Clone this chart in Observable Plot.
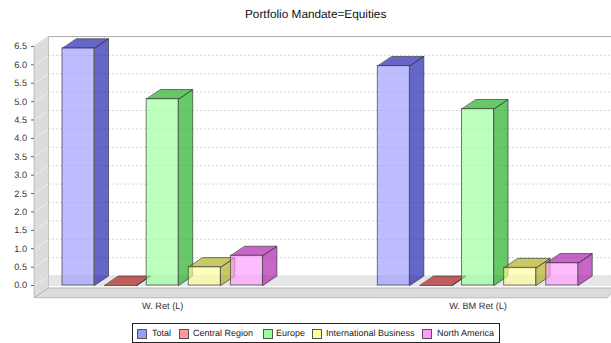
<!DOCTYPE html>
<html><head><meta charset="utf-8">
<script src="https://cdn.jsdelivr.net/npm/d3@7"></script>
<script src="https://cdn.jsdelivr.net/npm/@observablehq/plot@0.6"></script>
<style>
html,body{margin:0;padding:0;background:#fff;overflow:hidden}
body{width:611px;height:343px;font-family:"Liberation Sans",Arial,sans-serif;color:#222;text-rendering:geometricPrecision}
#title{height:26px;line-height:28px;font-size:11.8px;text-align:left;padding-left:245px;color:#111;box-sizing:border-box}
#chart svg{display:block;text-rendering:geometricPrecision}
#legend{position:absolute;left:132px;top:323px;width:368px;height:20px;box-sizing:border-box;border:1px solid #222;font-size:9px;color:#222}
#legend span{position:absolute;top:3.5px;line-height:11px;white-space:nowrap}
#legend i{position:absolute;top:4.5px;width:10px;height:10px;box-sizing:border-box;border:1px solid #555}
</style></head><body>
<div id="title">Portfolio Mandate=Equities</div>
<div id="chart"></div>
<div id="legend"></div>
<script>
const categories = ["W. Ret (L)", "W. BM Ret (L)"];
const seriesNames = ["Total", "Central Region", "Europe", "International Business", "North America"];
const retValues = [6.45, 0.0, 5.07, 0.5, 0.81];
const bmValues = [5.97, 0.0, 4.80, 0.48, 0.61];
const tickValues = [0,0.5,1,1.5,2,2.5,3,3.5,4,4.5,5,5.5,6,6.5];
const frontColors = ["#9999ff","#ff9999","#99ff99","#ffff99","#ff99ff"];
const sideColors = ["#1414aa","#aa1414","#14aa14","#aaaa14","#aa14aa"];
const legendSwatch = [136-132,178-132,262-132,311-132,421-132];
const legendText = [151-132,192-132,275-132,325-132,436-132];

const dX = 0.3325, dY = 0.258, barW = 0.76, groupStep = 7.49;
const xMin = -0.665, xMax = 13.04, yMin = -0.326, yMax = 6.77;

const rows = [];
categories.forEach((c, g) => {
  [retValues, bmValues][g].forEach((v, s) => rows.push({c, g, s, v, x0: g*groupStep + s, x1: g*groupStep + s + barW}));
});
function faces(kind) {
  const out = [];
  rows.forEach((r, i) => {
    const pts = kind === "side"
      ? [[r.x1,0],[r.x1+dX,dY],[r.x1+dX,r.v+dY],[r.x1,r.v]]
      : [[r.x0,r.v],[r.x1,r.v],[r.x1+dX,r.v+dY],[r.x0+dX,r.v+dY]];
    pts.forEach(p => out.push({id:i, s:r.s, x:p[0], y:p[1]}));
  });
  return out;
}
const poly = (pts, o) => Plot.line(pts.map(p => ({x:p[0],y:p[1]})), {x:"x",y:"y",curve:"linear-closed",...o});
const barStyle = {fillOpacity:0.65, strokeOpacity:0.65, stroke:"#333", strokeWidth:1};

const marks = [
  poly([[xMin,yMin],[xMin+dX,yMin+dY],[xMin+dX,yMax],[xMin,yMax-dY]], {fill:"#dcdcdc",stroke:"#b5b5b5",strokeWidth:1}),
  poly([[xMin,yMin],[xMin+dX,yMin+dY],[xMax+0.1,yMin+dY],[xMax-0.1,yMin]], {fill:"#dcdcdc",stroke:"#b5b5b5",strokeWidth:1}),
  Plot.rect([0], {x1:xMin+dX, x2:xMax, y1:yMin+dY+0.04, y2:dY, fill:"#e6e6e6"}),
  Plot.ruleY(tickValues, {y:d=>d+dY, x1:xMin+dX, x2:xMax, stroke:"#d6d6d6", strokeWidth:1, strokeDasharray:"2,2"}),
  Plot.link(tickValues, {x1:xMin, x2:xMin+dX, y1:d=>d, y2:d=>d+dY, stroke:"#eeeeee", strokeWidth:1}),
  Plot.ruleY([yMax], {x1:xMin+dX, x2:xMax, stroke:"#b0b0b0", strokeWidth:1}),
  Plot.ruleX([xMin+dX], {y1:yMin+dY, y2:yMax, stroke:"#c4c4c4", strokeWidth:1}),
  Plot.line(faces("side"), {x:"x",y:"y",z:"id",curve:"linear-closed",fill:d=>sideColors[d.s],...barStyle}),
  Plot.line(faces("top"), {x:"x",y:"y",z:"id",curve:"linear-closed",fill:d=>sideColors[d.s],...barStyle}),
  Plot.rect(rows, {x1:"x0",x2:"x1",y1:0,y2:"v",fill:d=>frontColors[d.s],inset:0,...barStyle}),
  Plot.axisY({ticks:tickValues, tickFormat:d3.format(".1f"), tickSize:3, tickPadding:4.5, label:null, fontSize:9.2, anchor:"left", color:"#333", stroke:"#666"}),
  Plot.axisX({ticks:categories.map((c,g)=>g*groupStep+2.38), tickFormat:(d,i)=>categories[i], tickSize:0, tickPadding:5, label:null, fontSize:9.2, anchor:"bottom", color:"#333"})
];
const chart = Plot.plot({
  width:611, height:294, marginLeft:34, marginRight:0, marginTop:10, marginBottom:23,
  style:{fontFamily:"'Liberation Sans',Arial,sans-serif",background:"transparent",overflow:"visible"},
  x:{type:"linear",domain:[xMin,xMax],axis:null},
  y:{type:"linear",domain:[yMin,yMax],axis:null},
  color:{type:"identity"},
  marks
});
document.getElementById("chart").append(chart);
const lg = document.getElementById("legend");
seriesNames.forEach((n,i)=>{
  const sw=document.createElement("i");sw.style.left=legendSwatch[i]+"px";sw.style.background=frontColors[i];lg.append(sw);
  const t=document.createElement("span");t.style.left=legendText[i]+"px";t.textContent=n;lg.append(t);
});
</script></body></html>
